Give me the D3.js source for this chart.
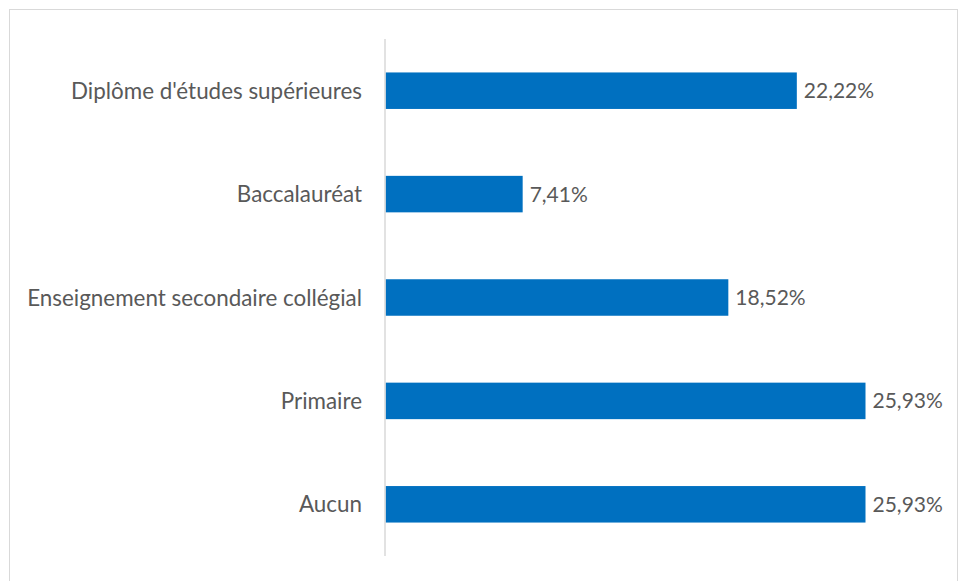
<!DOCTYPE html>
<html><head><meta charset="utf-8">
<script src="https://cdn.jsdelivr.net/npm/d3@7"></script>
<style>body{margin:0;background:#fff}svg{display:block}text{font-family:Lato,"Open Sans",sans-serif;fill:#595959}</style>
</head><body>
<script>
const categories = ["Diplôme d'études supérieures","Baccalauréat","Enseignement secondaire collégial","Primaire","Aucun"];
const values = [22.22, 7.41, 18.52, 25.93, 25.93];
const labels = ["22,22%","7,41%","18,52%","25,93%","25,93%"];

const W = 958, H = 581;
const svg = d3.select("body").append("svg").attr("width", W).attr("height", H);
svg.append("rect").attr("x",9.5).attr("y",9.5).attr("width",948).attr("height",600)
  .attr("fill","none").attr("stroke","#d9d9d9");

const x = d3.scaleLinear().domain([0, 25.93]).range([385.5, 865.5]);
const y = d3.scaleBand().domain(categories).range([39, 556]).paddingInner(0.647).paddingOuter(0.3235);

svg.append("g").selectAll("rect").data(values).join("rect")
  .attr("x", x(0)).attr("y", (d,i)=>y(categories[i]))
  .attr("width", d=>x(d)-x(0)).attr("height", y.bandwidth()).attr("fill","#0070C0");

svg.append("line").attr("x1",385).attr("x2",385).attr("y1",39).attr("y2",556)
  .attr("stroke","#d9d9d9").attr("stroke-width",1.5);

svg.append("g").selectAll("text").data(categories).join("text")
  .attr("x", 362).attr("y", d=>y(d)+y.bandwidth()/2).attr("dy","0.36em")
  .attr("text-anchor","end").attr("font-size","22.4px").text(d=>d);

svg.append("g").selectAll("text").data(values).join("text")
  .attr("x", d=>x(d)+7).attr("y", (d,i)=>y(categories[i])+y.bandwidth()/2).attr("dy","0.36em")
  .attr("font-size","21px").text((d,i)=>labels[i]);
</script>
</body></html>
